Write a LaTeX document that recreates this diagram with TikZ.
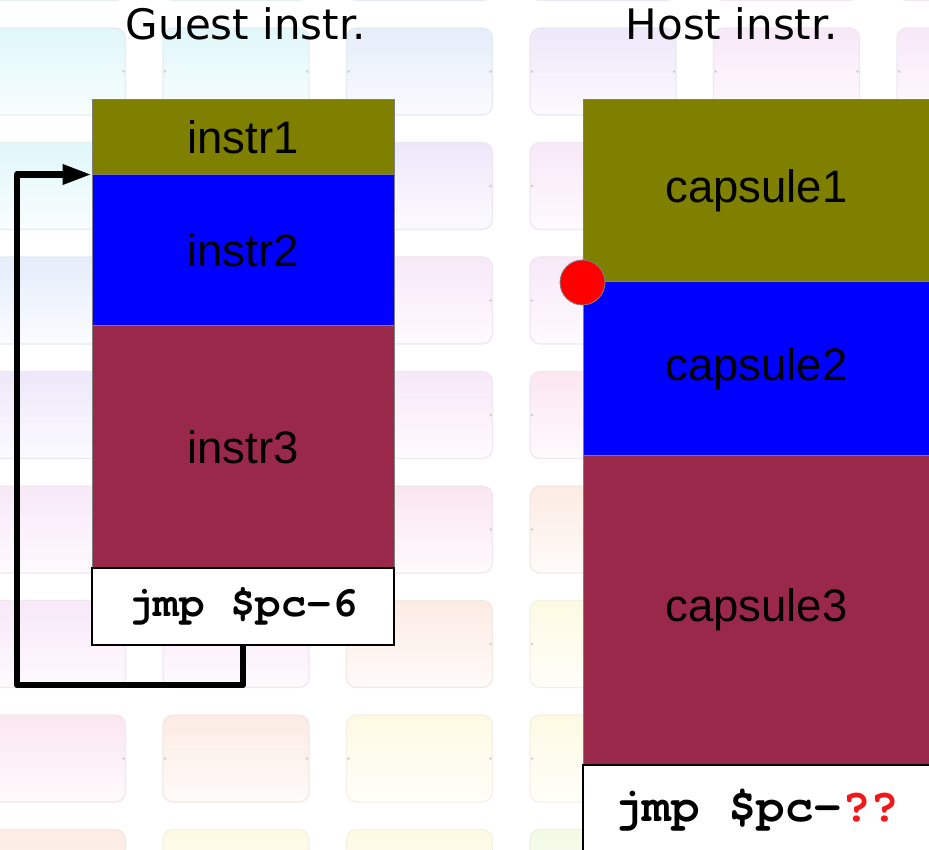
\documentclass[tikz,border=0pt]{standalone}
\usepackage{fontspec}
\setmainfont{Liberation Sans}
\newfontfamily\titlefont{DejaVu Sans}
\newfontfamily\codefont{TeX Gyre Cursor}
\usetikzlibrary{arrows.meta}

% block fills
\definecolor{blkolive}{HTML}{808000}
\definecolor{blkblue}{HTML}{0000FF}
\definecolor{blkmaroon}{HTML}{9A284B}
\definecolor{blkedge}{HTML}{7F7F7F}
\definecolor{pcred}{HTML}{FF0000}
\definecolor{qred}{HTML}{F01818}

% pastel tints of the background tiles
\definecolor{tileC}{HTML}{E0F7F9}
\definecolor{tileB}{HTML}{E5EDFA}
\definecolor{tileL}{HTML}{EDE8FA}
\definecolor{tileP}{HTML}{F8E8F8}
\definecolor{tileK}{HTML}{FBE6F0}
\definecolor{tileE}{HTML}{FCEBE3}
\definecolor{tileY}{HTML}{FDFAE3}
\definecolor{tileG}{HTML}{F2FAE3}

\tikzset{
  tile/.style={rounded corners=10pt, line width=1.2pt},
  tiledot/.style={fill=gray!35, draw=none},
  block/.style={rectangle, draw=blkedge, line width=1pt, inner sep=0pt,
    text=black, font=\fontsize{45.5}{54}\selectfont},
  guestcol/.style={block, minimum width=302pt},
  hostcol/.style={block, minimum width=347pt},
  codebox/.style={rectangle, draw=black, line width=2pt, fill=white, inner sep=0pt,
    text=black},
  coltitle/.style={inner sep=0pt, text=black, font=\titlefont\fontsize{42}{50}\selectfont},
  loopback/.style={line width=6.5pt, line join=round, draw=black,
    -{Triangle[length=29pt,width=19pt]}},
  pcmark/.style={circle, fill=pcred, draw=gray, line width=0.8pt, minimum size=45pt, inner sep=0pt}
}

\begin{document}
\begin{tikzpicture}[x=1pt,y=-1pt]
\useasboundingbox (0,0) rectangle (929,850);
\clip (0,0) rectangle (929,850);
\fill[white] (0,0) rectangle (929,850);

% background: grid of faint rounded tiles
\foreach \r/\ca/\cb/\cc/\cd/\ce/\cf in {
   -1/C/C/B/L/P/P,
    0/C/C/B/L/P/P,
    1/C/C/L/P/P/K,
    2/B/B/P/P/K/K,
    3/L/L/P/K/K/E,
    4/P/P/K/E/E/Y,
    5/P/P/E/Y/Y/Y,
    6/K/E/Y/Y/Y/G,
    7/E/Y/Y/G/G/G}{
  \foreach \c/\col in {0/\ca,1/\cb,2/\cc,3/\cd,4/\ce,5/\cf}{
    \pgfmathsetmacro\tx{-20.5+183.5*\c}
    \pgfmathsetmacro\ty{28+114.5*\r}
    \shade[tile, top color=tile\col, bottom color=tile\col!20!white]
      (\tx,\ty) rectangle ++(146,87);
    \draw[tile, draw=tile\col!85!gray!60] (\tx,\ty) rectangle ++(146,87);
    \fill[tiledot] (\tx+2,\ty+43.5) circle (1.5);
    \fill[tiledot] (\tx+144,\ty+43.5) circle (1.5);
  }
}

% column titles
\node[coltitle] (gtitle) at (246,24) {Guest instr.};
\node[coltitle] (htitle) at (732,24) {Host instr.};

% guest instructions
\node[guestcol, fill=blkolive,  minimum height=75pt]  (g1) at (243,137.5) {instr1};
\node[guestcol, fill=blkblue,   minimum height=151pt] (g2) at (243,250.5) {instr2};
\node[guestcol, fill=blkmaroon, minimum height=242pt] (g3) at (243,447)   {instr3};
\node[codebox, minimum width=302pt, minimum height=77pt,
      font=\codefont\bfseries\fontsize{42.5}{50}\selectfont] (gj) at (243,606.5) {jmp \$pc-6};

% host capsules
\node[hostcol, fill=blkolive,  minimum height=182pt] (h1) at (756.5,191)   {capsule1};
\node[hostcol, fill=blkblue,   minimum height=173pt] (h2) at (756.5,368.5) {capsule2};
\node[hostcol, fill=blkmaroon, minimum height=310pt] (h3) at (756.5,610)   {capsule3};
\node[codebox, minimum width=347pt, minimum height=90pt,
      font=\codefont\bfseries\fontsize{47.5}{56}\selectfont] (hj) at (756.5,810)
      {jmp \$pc-{\color{qred}??}};

% backward jump of the guest code
\coordinate (lp) at (17,685);
\draw[loopback] (gj.south) |- (lp) |- (g2.north west);

% entry point of capsule2
\node[pcmark] (pc) at (h1.south west) {};
\end{tikzpicture}
\end{document}
